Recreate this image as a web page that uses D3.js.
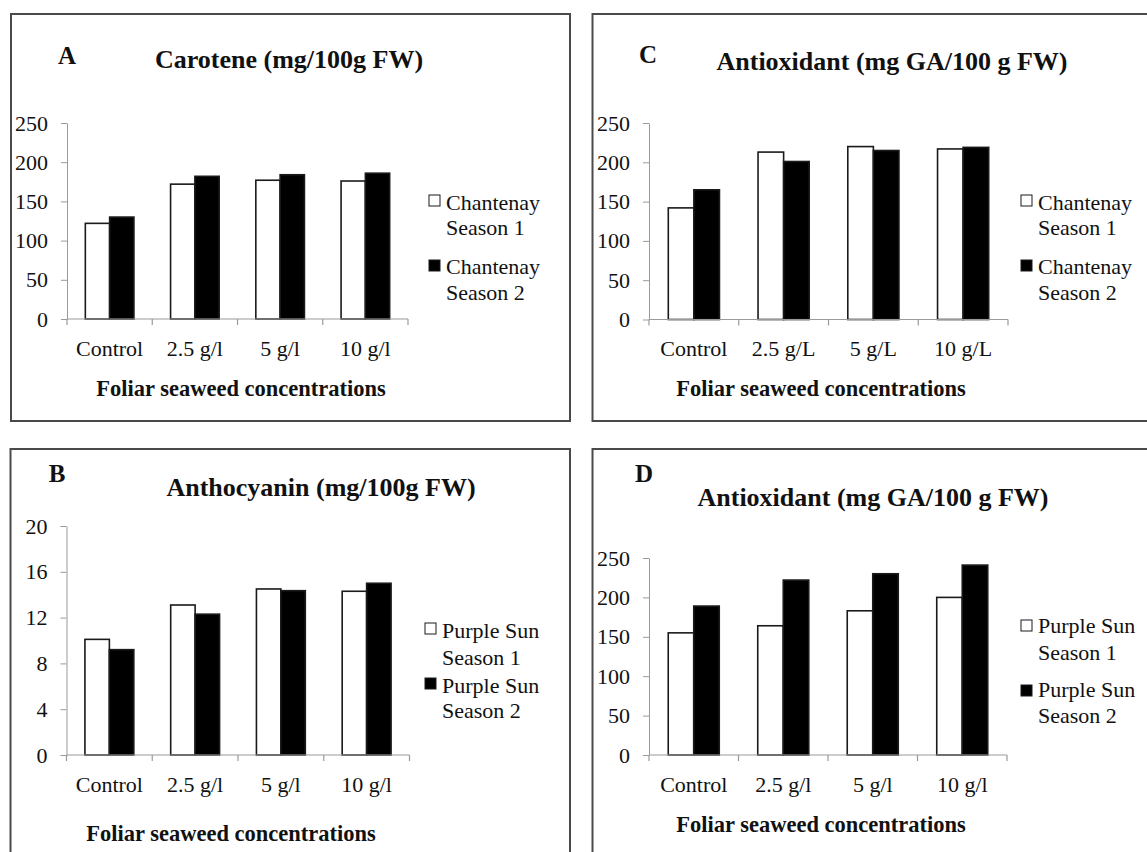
<!DOCTYPE html>
<html>
<head>
<meta charset="utf-8">
<script src="https://cdn.jsdelivr.net/npm/d3@7"></script>
<style>
  html, body { margin: 0; padding: 0; background: #fff; }
  svg { display: block; }
  svg text { font-family: "Liberation Serif", "Times New Roman", serif !important; fill: #111; }
</style>
</head>
<body>
<svg id="chart" width="1147" height="852"></svg>
<script>
// ---------- data ----------
const categoriesL = ["Control", "2.5 g/l", "5 g/l", "10 g/l"];
const categoriesU = ["Control", "2.5 g/L", "5 g/L", "10 g/L"];

const caroteneSeason1 = [122, 172, 177, 176];
const caroteneSeason2 = [130, 182, 184, 186];

const antioxChantenaySeason1 = [142, 213, 220, 217];
const antioxChantenaySeason2 = [165, 201, 215, 219];

const anthocyaninSeason1 = [10.1, 13.1, 14.5, 14.3];
const anthocyaninSeason2 = [9.2, 12.3, 14.35, 15.0];

const antioxPurpleSeason1 = [155, 164, 183, 200];
const antioxPurpleSeason2 = [189, 222, 230, 241];

const ticks250 = [0, 50, 100, 150, 200, 250];
const ticks20 = [0, 4, 8, 12, 16, 20];

const legendChantenay = [["Chantenay", "Season 1"], ["Chantenay", "Season 2"]];
const legendPurple = [["Purple Sun", "Season 1"], ["Purple Sun", "Season 2"]];

const xTitle = "Foliar seaweed concentrations";

// ---------- layout ----------
const panels = [
  { letter: "A", title: "Carotene (mg/100g FW)", cats: categoriesL,
    s1: caroteneSeason1, s2: caroteneSeason2, ticks: ticks250, legend: legendChantenay,
    frame: [11, 14, 570, 421], letterPos: [67, 64], titlePos: [289, 68],
    xr: [67, 408], yr: [319, 123], labelY: 356, xTitlePos: [241, 396],
    leg: { sx: 429, sy: [195, 260], tx: 446, ty: [[210, 235], [274, 300]] } },
  { letter: "C", title: "Antioxidant (mg GA/100 g FW)", cats: categoriesU,
    s1: antioxChantenaySeason1, s2: antioxChantenaySeason2, ticks: ticks250, legend: legendChantenay,
    frame: [592.5, 14, 1152, 421], letterPos: [648, 63], titlePos: [892, 70],
    xr: [649, 1008], yr: [319.5, 123], labelY: 356, xTitlePos: [821, 396],
    leg: { sx: 1021, sy: [195, 260], tx: 1038, ty: [[210, 235], [274, 300]] } },
  { letter: "B", title: "Anthocyanin (mg/100g FW)", cats: categoriesL,
    s1: anthocyaninSeason1, s2: anthocyaninSeason2, ticks: ticks20, legend: legendPurple,
    frame: [10.5, 449, 570, 862], letterPos: [57, 482], titlePos: [321, 496],
    xr: [66.5, 409.5], yr: [755, 526], labelY: 792, xTitlePos: [231, 841],
    leg: { sx: 425, sy: [623, 678], tx: 442, ty: [[638, 665], [693, 718]] } },
  { letter: "D", title: "Antioxidant (mg GA/100 g FW)", cats: categoriesL,
    s1: antioxPurpleSeason1, s2: antioxPurpleSeason2, ticks: ticks250, legend: legendPurple,
    frame: [592.5, 449, 1152, 862], letterPos: [644, 482], titlePos: [873, 506],
    xr: [649, 1007], yr: [755, 558], labelY: 792, xTitlePos: [821, 832],
    leg: { sx: 1021, sy: [620, 685], tx: 1038, ty: [[633, 660], [697, 723]] } }
];

const svg = d3.select("#chart");
svg.append("rect").attr("width", 1147).attr("height", 852).attr("fill", "#fff");

const axisColor = "#9a9a9a";
const fills = ["#ffffff", "#000000"];

panels.forEach(p => {
  const g = svg.append("g");
  const [fx0, fy0, fx1, fy1] = p.frame;
  g.append("rect")
    .attr("x", fx0).attr("y", fy0)
    .attr("width", fx1 - fx0).attr("height", fy1 - fy0)
    .attr("fill", "none").attr("stroke", "#4a4a4a").attr("stroke-width", 2);

  g.append("text").attr("x", p.letterPos[0]).attr("y", p.letterPos[1])
    .attr("text-anchor", "middle").attr("font-weight", "bold").attr("font-size", 25)
    .text(p.letter);
  g.append("text").attr("x", p.titlePos[0]).attr("y", p.titlePos[1])
    .attr("text-anchor", "middle").attr("font-weight", "bold").attr("font-size", 26)
    .text(p.title);

  const x = d3.scaleBand().domain(p.cats).range(p.xr).padding(0);
  const bw = x.bandwidth();
  const x1 = d3.scaleBand().domain([0, 1]).range([bw * 0.215, bw * 0.785]).padding(0);
  const y = d3.scaleLinear().domain([d3.min(p.ticks), d3.max(p.ticks)]).range(p.yr);

  // y axis
  const yAxis = d3.axisLeft(y).tickValues(p.ticks).tickSize(6).tickPadding(13).tickSizeOuter(0);
  const ya = g.append("g").attr("transform", `translate(${p.xr[0]},0)`).call(yAxis);
  ya.attr("font-family", null).attr("font-size", null);
  ya.select(".domain").attr("stroke", axisColor);
  ya.selectAll(".tick line").attr("stroke", axisColor);
  ya.selectAll(".tick text").attr("font-size", 22).attr("fill", "#111");

  // bars
  const rows = p.cats.map((c, i) => ({ c, v: [p.s1[i], p.s2[i]] }));
  const grp = g.selectAll(".grp").data(rows).enter().append("g")
    .attr("transform", d => `translate(${x(d.c)},0)`);
  grp.selectAll("rect").data(d => d.v.map((v, k) => ({ v, k }))).enter().append("rect")
    .attr("x", d => x1(d.k))
    .attr("width", x1.bandwidth())
    .attr("y", d => y(d.v))
    .attr("height", d => y(0) - y(d.v))
    .attr("fill", d => fills[d.k])
    .attr("stroke", "#1a1a1a").attr("stroke-width", 1.6);

  // x axis (ticks at category boundaries)
  const y0 = y(0);
  g.append("line").attr("x1", p.xr[0]).attr("x2", p.xr[1]).attr("y1", y0).attr("y2", y0)
    .attr("stroke", axisColor).attr("stroke-width", 1.2);
  const bounds = p.cats.map(c => x(c)).concat([x(p.cats[p.cats.length - 1]) + bw]);
  g.selectAll(".xt").data(bounds).enter().append("line")
    .attr("x1", d => d).attr("x2", d => d).attr("y1", y0).attr("y2", y0 + 6)
    .attr("stroke", axisColor).attr("stroke-width", 1.2);
  g.selectAll(".xl").data(p.cats).enter().append("text")
    .attr("x", d => x(d) + bw / 2).attr("y", p.labelY)
    .attr("text-anchor", "middle").attr("font-size", 22)
    .text(d => d);

  g.append("text").attr("x", p.xTitlePos[0]).attr("y", p.xTitlePos[1])
    .attr("text-anchor", "middle").attr("font-weight", "bold").attr("font-size", 22.5)
    .text(xTitle);

  // legend
  p.legend.forEach((lines, k) => {
    g.append("rect").attr("x", p.leg.sx).attr("y", p.leg.sy[k])
      .attr("width", 11).attr("height", 11)
      .attr("fill", fills[k]).attr("stroke", "#1a1a1a").attr("stroke-width", 1);
    lines.forEach((t, j) => {
      g.append("text").attr("x", p.leg.tx).attr("y", p.leg.ty[k][j])
        .attr("font-size", 22).text(t);
    });
  });
});
</script>
</body>
</html>
